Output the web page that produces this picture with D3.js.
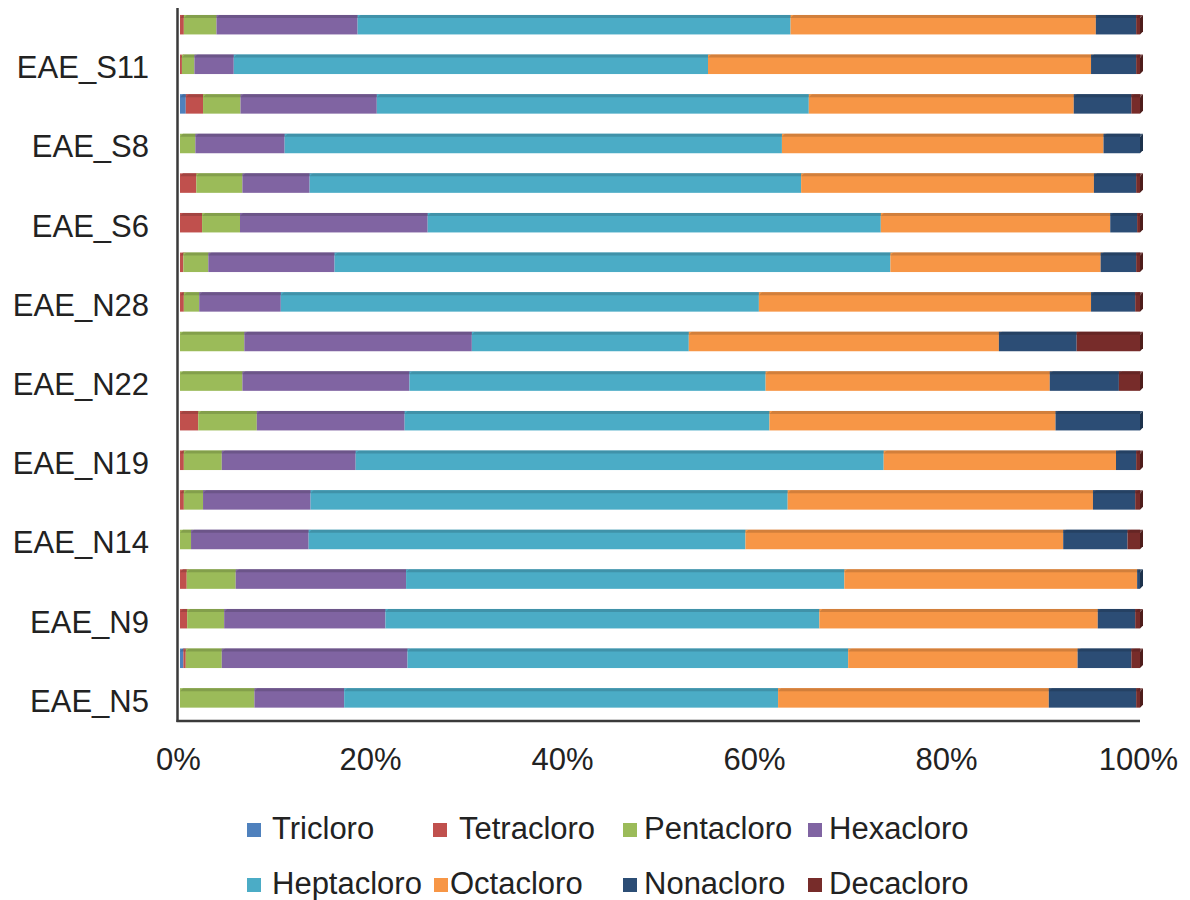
<!DOCTYPE html>
<html>
<head>
<meta charset="utf-8">
<script src="https://cdn.jsdelivr.net/npm/d3@7"></script>
<style>
  html, body { margin: 0; padding: 0; background: #ffffff; }
  svg { display: block; font-family: "Liberation Sans", Arial, sans-serif; }
</style>
</head>
<body>
<svg id="chart" width="1190" height="900"></svg>
<script>
// Categories from top to bottom (labels shown only on every other bar, as in the reference)
const categories = [
  "EAE_S12", "EAE_S11", "EAE_S10", "EAE_S8", "EAE_S7", "EAE_S6",
  "EAE_S3", "EAE_N28", "EAE_N25", "EAE_N22", "EAE_N20", "EAE_N19",
  "EAE_N16", "EAE_N14", "EAE_N11", "EAE_N9", "EAE_N7", "EAE_N5"
];
const shownLabels = ["EAE_S11", "EAE_S8", "EAE_S6", "EAE_N28", "EAE_N22", "EAE_N19", "EAE_N14", "EAE_N9", "EAE_N5"];

const seriesNames = ["Tricloro", "Tetracloro", "Pentacloro", "Hexacloro", "Heptacloro", "Octacloro", "Nonacloro", "Decacloro"];
const seriesColors = ["#4F81BD", "#C0504D", "#9BBB59", "#8064A2", "#4BACC6", "#F79646", "#2C4D75", "#772C2A"];

// Percent values per series, in the order of `categories`
const tricloro   = [0,    0,    0.6,  0,    0,    0,    0,    0,    0,    0,    0,    0,    0,    0,    0,    0,    0.35, 0];
const tetracloro = [0.4,  0.2,  1.8,  0,    1.7,  2.3,  0.35, 0.4,  0,    0,    1.9,  0.4,  0.4,  0,    0.7,  0.75, 0.25, 0];
const pentacloro = [3.4,  1.3,  3.9,  1.6,  4.8,  3.95, 2.6,  1.6,  6.7,  6.5,  6.1,  3.95, 2.0,  1.15, 5.1,  3.85, 3.75, 7.75];
const hexacloro  = [14.7, 4.1,  14.2, 9.3,  7.0,  19.55,13.15,8.5,  23.7, 17.4, 15.4, 13.95,11.2, 12.25,17.75,16.8, 19.35,9.35];
const heptacloro = [45.1, 49.4, 45.0, 51.8, 51.2, 47.2, 57.9, 49.8, 22.6, 37.1, 38.0, 55.0, 49.7, 45.5, 45.65,45.2, 45.9, 45.2];
const octacloro  = [31.8, 39.9, 27.6, 33.5, 30.5, 23.9, 21.9, 34.6, 32.3, 29.6, 29.8, 24.2, 31.8, 33.1, 30.5, 29.0, 23.9, 28.2];
const nonacloro  = [4.2,  4.7,  6.0,  3.8,  4.4,  2.8,  3.7,  4.6,  8.1,  7.2,  8.8,  2.1,  4.4,  6.7,  0.3,  3.9,  5.6,  9.1];
const decacloro  = [0.4,  0.4,  0.9,  0,    0.4,  0.3,  0.4,  0.5,  6.6,  2.2,  0,    0.4,  0.5,  1.3,  0,    0.5,  0.9,  0.4];

const xTicks = [0, 20, 40, 60, 80, 100];

// ---- build table ----
const seriesValues = [tricloro, tetracloro, pentacloro, hexacloro, heptacloro, octacloro, nonacloro, decacloro];
const table = categories.map((c, i) => {
  const row = { cat: c };
  seriesNames.forEach((s, j) => row[s] = seriesValues[j][i]);
  return row;
});
const stack = d3.stack().keys(seriesNames)
  .offset(d3.stackOffsetExpand)(table);

const svg = d3.select("#chart");
const x = d3.scaleLinear().domain([0, 1]).range([180, 1140]);
const y = d3.scaleBand().domain(categories).range([4.9, 717.7]).paddingInner(0.508).paddingOuter(0.254);
const color = d3.scaleOrdinal().domain(seriesNames).range(seriesColors);

const depth = 3;
const bars = svg.append("g");
stack.forEach((layer, li) => {
  const g = bars.append("g");
  const base = color(layer.key);
  const dark = d3.color(base).darker(0.55).formatHex();
  layer.forEach((d, i) => {
    const x0 = x(d[0]), x1 = x(d[1]);
    if (x1 - x0 <= 0.01) return;
    const yy = y(d.data.cat), h = y.bandwidth();
    g.append("rect").attr("x", x0).attr("y", yy).attr("width", x1 - x0).attr("height", h).attr("fill", base);
    g.append("path")
      .attr("d", `M${x0},${yy + depth}L${x0 + depth},${yy}L${x1 + depth},${yy}L${x1},${yy + depth}Z`)
      .attr("fill", dark).attr("opacity", 0.85);
    // right side face on the last non-zero segment
    const isLast = stack.slice(li + 1).every(l => l[i][1] - l[i][0] < 1e-9);
    if (isLast) {
      g.append("path")
        .attr("d", `M${x1},${yy + depth}L${x1 + depth},${yy}L${x1 + depth},${yy + h - depth}L${x1},${yy + h}Z`)
        .attr("fill", d3.color(base).darker(1.2).formatHex());
    }
  });
});

// ---- axes ----
const fontSize = 31;
const xAxis = d3.axisBottom(x).tickValues(xTicks.map(v => v / 100))
  .tickFormat(v => Math.round(v * 100) + "%").tickSize(0).tickPadding(27);
const gx = svg.append("g").attr("transform", "translate(0,721)").call(xAxis);
gx.select(".domain").remove();
gx.selectAll("text").attr("font-size", fontSize).attr("fill", "#222").attr("font-family", "Liberation Sans, Arial, sans-serif")
  .attr("dx", -2);

const yAxis = d3.axisLeft(y).tickValues(shownLabels).tickSize(0).tickPadding(29);
const gy = svg.append("g").attr("transform", "translate(178,0)").call(yAxis);
gy.select(".domain").remove();
gy.selectAll("text").attr("font-size", fontSize).attr("fill", "#222").attr("font-family", "Liberation Sans, Arial, sans-serif")
  .attr("dy", "0.32em").attr("y", 4);

// axis lines
svg.append("line").attr("x1", 177.5).attr("x2", 177.5).attr("y1", 8).attr("y2", 722)
  .attr("stroke", "#3a3a3a").attr("stroke-width", 2.5);
svg.append("line").attr("x1", 176.5).attr("x2", 1140).attr("y1", 721).attr("y2", 721)
  .attr("stroke", "#3a3a3a").attr("stroke-width", 2.5);

// ---- legend ----
const legendMarkerX = [247, 433, 623, 808, 247, 434, 623, 808];
const legendTextX = [272, 459, 644, 829, 272, 450, 644, 829];
const legendRowY = [823, 878];
const lg = svg.append("g");
seriesNames.forEach((s, i) => {
  const row = Math.floor(i / 4);
  lg.append("rect").attr("x", legendMarkerX[i]).attr("y", legendRowY[row]).attr("width", 14).attr("height", 14)
    .attr("fill", color(s));
  lg.append("text").attr("x", legendTextX[i]).attr("y", legendRowY[row] + 16)
    .attr("font-size", fontSize).attr("fill", "#222").text(s);
});
</script>
</body>
</html>
